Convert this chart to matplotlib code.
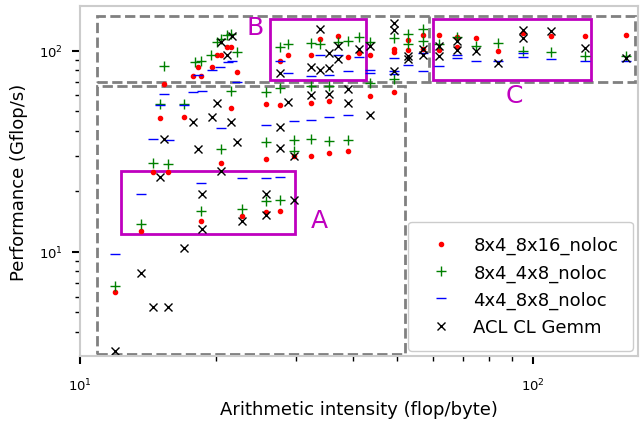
import numpy as np
import matplotlib
matplotlib.use('agg')
import matplotlib.pyplot as plt
from matplotlib.patches import Rectangle

# arithmetic intensity (flop/byte) and performance (Gflop/s) per kernel variant
ai_8x16 = [11.95, 13.6, 14.5, 15.6, 15.0, 15.3, 17.0, 17.8, 18.2, 18.5, 18.5, 19.6, 20.1, 20.5, 20.5,
           21.1, 21.5, 21.5, 22.2, 22.8, 25.7, 25.7, 25.7, 27.6, 27.6, 27.6, 28.8, 29.7, 32.4, 32.4,
           32.4, 33.9, 35.5, 35.5, 37.1, 39.1, 39.1, 41.3, 43.7, 43.7, 49.3, 49.3, 49.3, 53.0, 53.0,
           57.2, 57.2, 62.0, 62.0, 67.9, 67.9, 74.8, 83.7, 95.0, 109.6, 130.2, 160.4]
perf_8x16 = [6.3, 12.7, 25.0, 25.0, 46.3, 68.5, 47, 74.5, 83.2, 74.5, 14.2, 83, 95.5, 95, 27.7,
             104, 104, 52, 78, 15.1, 15.8, 28.8, 54.5, 15.9, 53.5, 88.6, 95.6, 29.8, 30, 55,
             95.6, 114, 31, 56, 118, 31.6, 93.5, 97, 95, 59.6, 102, 98, 62.5, 113, 101,
             120, 102, 119, 100.5, 117, 104, 116, 100, 123, 118, 118, 119]

ai_4x8 = [11.95, 13.6, 14.5, 15.6, 15.3, 15.0, 17.0, 17.9, 18.5, 19.5, 20.1, 20.5, 20.5, 21.1, 21.5,
          21.5, 22.2, 18.5, 22.8, 25.7, 25.7, 25.7, 27.6, 27.6, 27.6, 28.8, 29.7, 29.7, 32.4, 32.4,
          32.4, 33.9, 35.5, 35.5, 37.1, 39.1, 39.1, 41.3, 43.7, 43.7, 49.3, 49.3, 53.0, 53.0, 57.2,
          57.2, 62.0, 67.9, 74.8, 83.7, 95.0, 109.6, 130.2, 160.4]
perf_4x8 = [6.8, 13.8, 27.7, 27.2, 83.7, 54.1, 54.1, 88, 89, 95, 110.6, 113.7, 32.4, 119.2, 121.6,
            63, 98, 16.0, 16.3, 18.0, 35, 62.5, 18.2, 65.6, 104, 108, 36, 31.9, 109, 36.5,
            67, 108, 35.5, 67, 111, 112, 35.8, 117, 111, 69, 115, 72.5, 121.6, 108, 128.6,
            112, 108.4, 117, 106, 109, 100, 98.6, 93.6, 93.6]

ai_8x8 = [11.95, 13.6, 14.5, 15.7, 15.3, 15.0, 17.0, 18.2, 17.8, 18.6, 18.5, 19.6, 20.4, 21.2, 21.6,
          22.2, 20.5, 22.8, 25.7, 25.7, 27.6, 27.6, 28.8, 29.7, 32.4, 32.4, 33.9, 35.5, 35.5, 37.1,
          39.1, 39.1, 41.3, 43.7, 43.7, 49.3, 49.3, 49.3, 53.0, 57.2, 57.2, 62.0, 67.9, 67.9, 74.8,
          83.7, 95.0, 95.0, 109.6, 130.2, 160.4]
perf_8x8 = [9.8, 19.4, 36.2, 35.9, 61.1, 54, 54, 76.1, 62.6, 63, 22.0, 80, 83, 88, 89,
            70, 41.3, 23.3, 23.4, 42.6, 23.6, 89, 77, 44.6, 45, 74.5, 95, 46.6, 76, 95.6,
            47.8, 79, 93.4, 80, 77, 92, 79, 76.5, 85, 97.6, 79.6, 84, 95, 92, 89,
            89, 97.6, 93, 91, 89, 89]

ai_acl = [11.95, 13.6, 14.5, 15.6, 15.0, 15.3, 17.0, 17.8, 18.2, 18.6, 18.6, 19.6, 20.1, 20.5, 20.5,
          21.1, 21.5, 21.6, 22.2, 22.8, 25.7, 25.7, 27.6, 27.6, 27.6, 28.8, 29.7, 29.7, 32.4, 32.4,
          33.9, 33.9, 35.5, 35.5, 35.5, 37.1, 37.1, 39.1, 39.1, 41.3, 43.7, 43.7, 49.3, 49.3, 49.3,
          53.0, 53.0, 57.2, 57.2, 62.0, 62.0, 67.9, 67.9, 74.8, 83.7, 95.0, 95.0, 109.6, 130.2, 160.4]
perf_acl = [3.2, 7.9, 5.3, 5.3, 23.5, 36.2, 10.4, 44, 32.5, 19.4, 13.0, 47, 55, 110.6, 25.2,
            95.6, 44, 118, 35, 14.2, 19.4, 15.2, 32.7, 41.7, 77, 55.7, 18.2, 29.8, 60, 83,
            128.6, 80.3, 61, 97, 82.4, 106, 91, 64.7, 55, 102, 106, 48, 138, 126, 79,
            94.5, 91, 102, 95, 105, 93.7, 112, 100.5, 100, 86.7, 127, 116, 125, 103.6, 92]

fig = plt.figure(figsize=(6.4, 4.27), dpi=100)
ax = fig.add_axes([0.125, 0.164, 0.872, 0.820])

ax.plot(ai_8x16, perf_8x16, 'r.', label='8x4_8x16_noloc')
ax.plot(ai_4x8, perf_4x8, 'g+', markersize=7, label='8x4_4x8_noloc')
ax.plot(ai_8x8, perf_8x8, 'b_', markersize=7, label='4x4_8x8_noloc')
ax.plot(ai_acl, perf_acl, 'kx', label='ACL CL Gemm')

ax.set_xscale('log')
ax.set_yscale('log')
ax.set_xlim(10, 170.5)
ax.set_ylim(3.04, 167)

# regions of interest
for (x0, x1, y0, y1) in [(10.9, 52.1, 3.1, 67), (10.9, 168, 70.1, 149)]:
    ax.add_patch(Rectangle((x0, y0), x1 - x0, y1 - y0, fill=False, ls='--', lw=2, ec='gray'))
ax.plot([58.9, 58.9], [70.1, 149], ls='--', lw=2, color='gray')
for (x0, x1, y0, y1) in [(12.3, 29.8, 12.3, 25.2), (26.2, 42.7, 71.8, 144), (60.0, 134, 71.7, 144)]:
    ax.add_patch(Rectangle((x0, y0), x1 - x0, y1 - y0, fill=False, lw=2, ec='m'))
ax.text(33.7, 14.4, 'A', color='m', fontsize=18, ha='center', va='center')
ax.text(24.3, 131, 'B', color='m', fontsize=18, ha='center', va='center')
ax.text(91, 60, 'C', color='m', fontsize=18, ha='center', va='center')

for s in ax.spines.values():
    s.set_color('#cccccc')
    s.set_linewidth(1.5)
ax.tick_params(which='major', length=6, width=1.5, labelsize=9.5)
ax.tick_params(axis='x', which='major', pad=9)
ax.tick_params(axis='y', which='major', pad=6)
ax.tick_params(which='minor', length=3.5, width=1)

ax.set_xlabel('Arithmetic intensity (flop/byte)', fontsize=13, labelpad=5)
ax.set_ylabel('Performance (Gflop/s)', fontsize=13, labelpad=8)
ax.legend(loc='lower right', fontsize=13, edgecolor='#cccccc', framealpha=1,
          borderpad=0.8, borderaxespad=0.3)

plt.savefig('out.png')
